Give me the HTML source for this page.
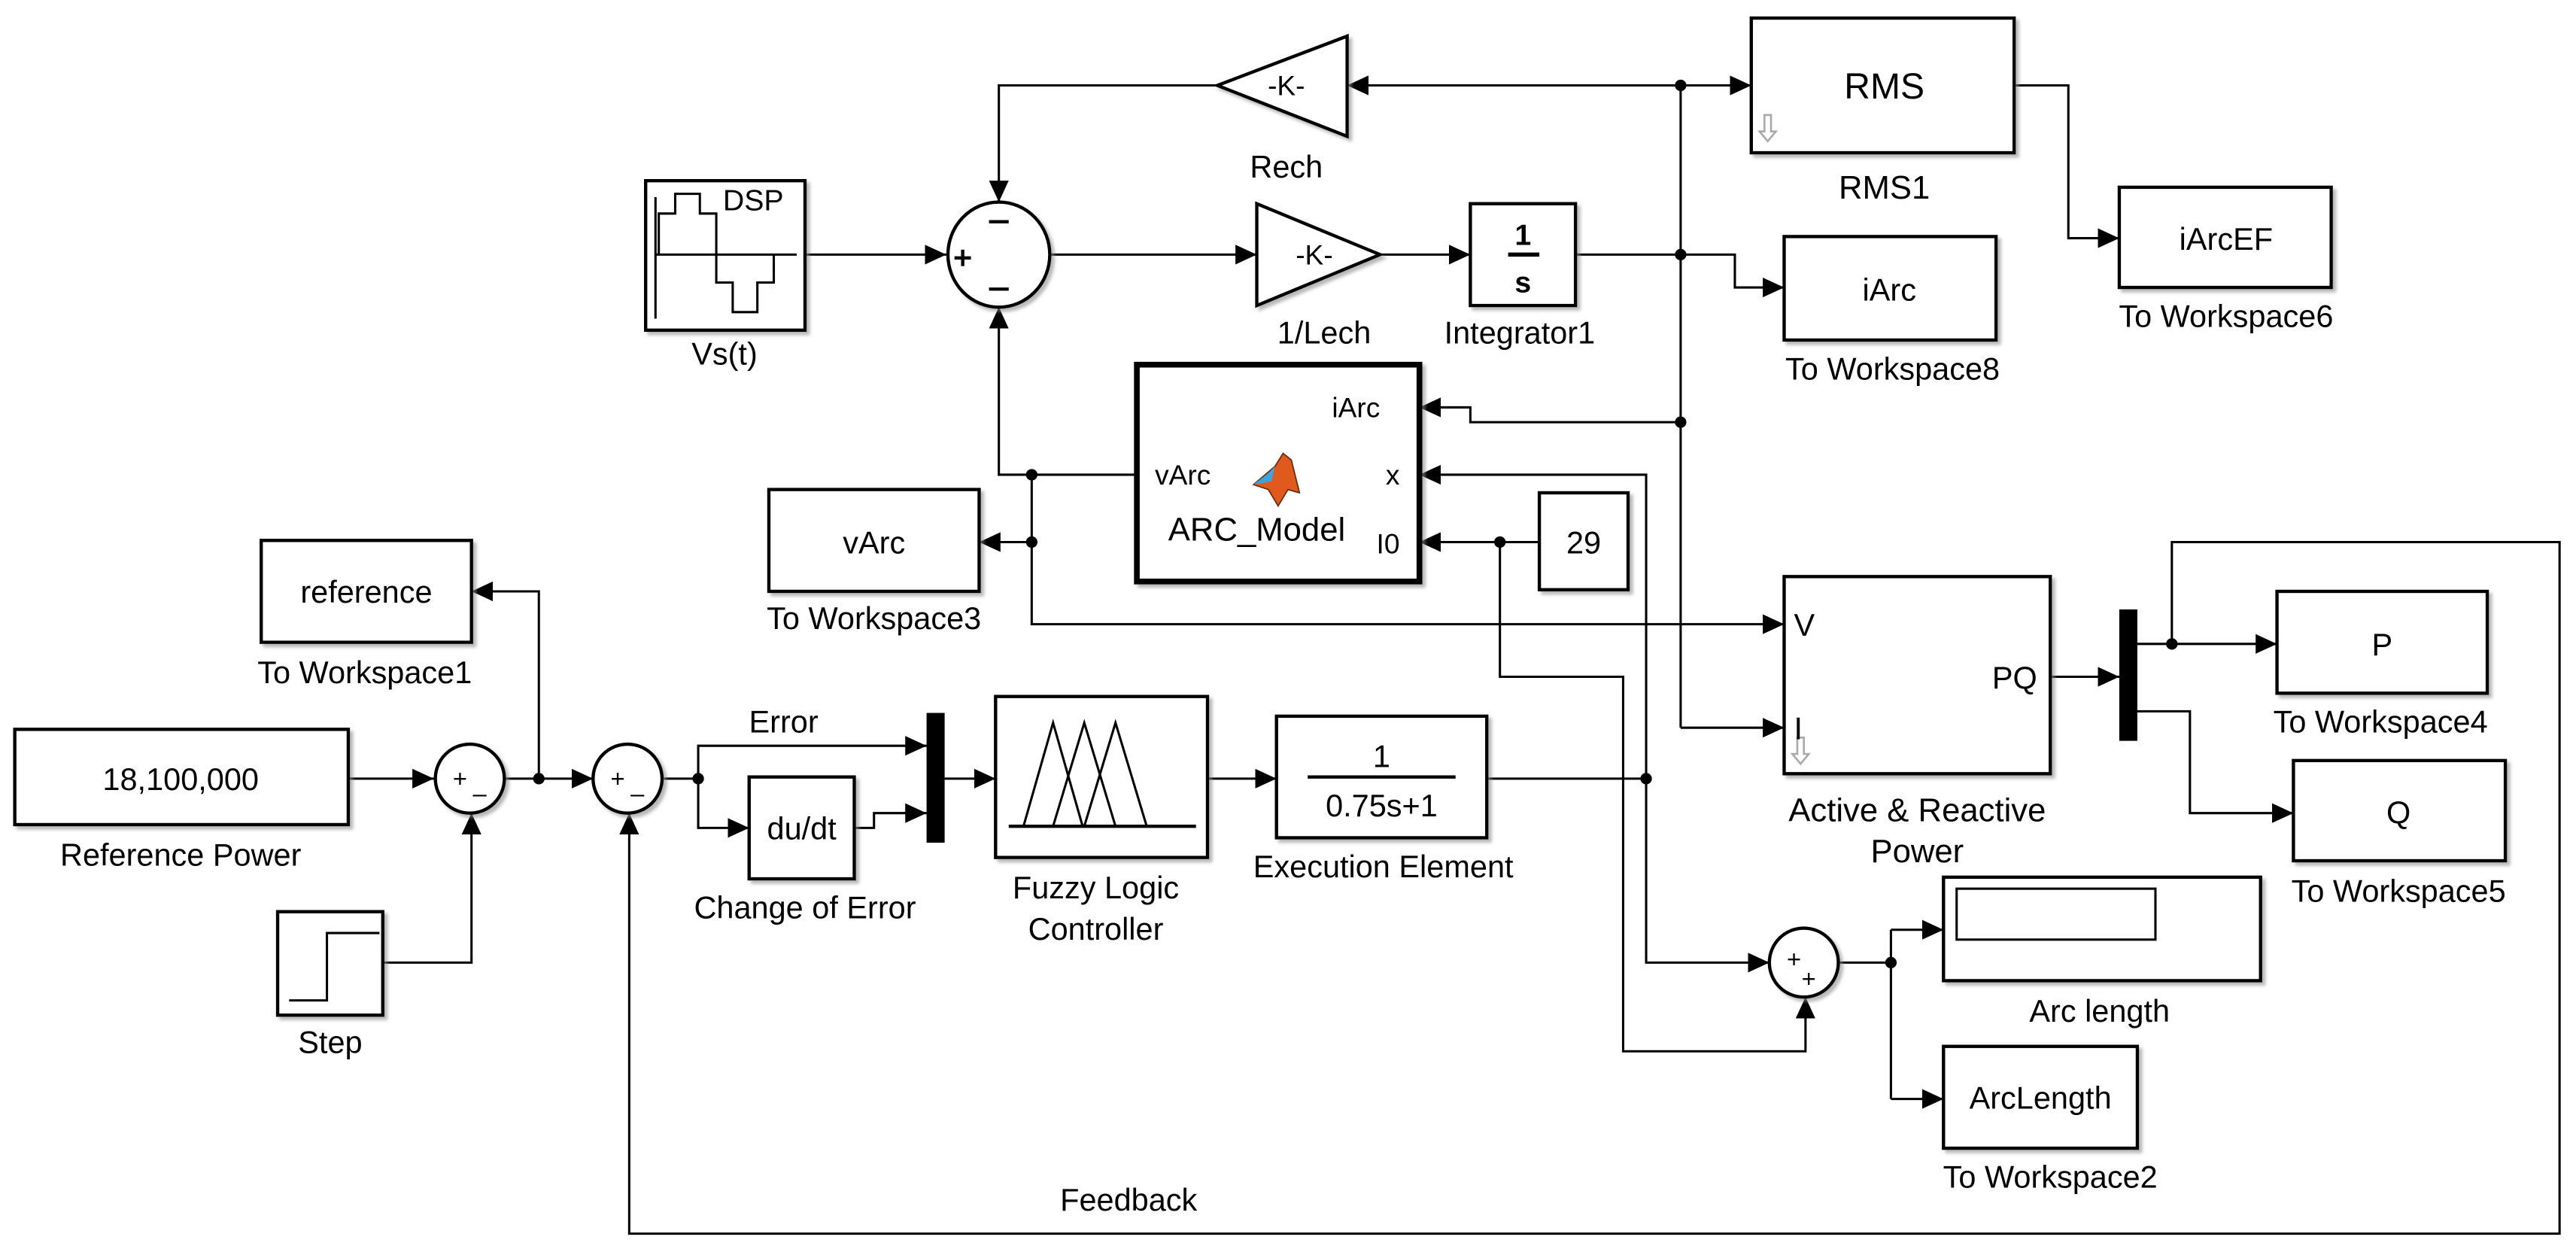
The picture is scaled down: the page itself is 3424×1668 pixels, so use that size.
<!DOCTYPE html>
<html><head><meta charset="utf-8"><style>
html,body{margin:0;padding:0;background:#fff}
svg{display:block}
text{font-family:"Liberation Sans",sans-serif;fill:#000}
</style></head><body>
<svg width="3424" height="1668" viewBox="0 0 1568 764" preserveAspectRatio="none" xmlns="http://www.w3.org/2000/svg">
<defs>
<marker id="a" markerUnits="userSpaceOnUse" markerWidth="14" markerHeight="14" refX="13" refY="6" orient="auto"><path d="M0,0 L13,6 L0,12 z" fill="#000"/></marker>
<filter id="sh" x="-5%" y="-5%" width="115%" height="115%"><feDropShadow dx="2" dy="2" stdDeviation="1" flood-color="#888" flood-opacity="0.6"/></filter>
</defs>
<g fill="none" stroke="#000" stroke-width="1.4">
<line x1="490" y1="155" x2="576" y2="155" marker-end="url(#a)"/>
<polyline points="741,52 608,52 608,123" marker-end="url(#a)"/>
<line x1="1023" y1="52" x2="820" y2="52" marker-end="url(#a)"/>
<line x1="1023" y1="52" x2="1066" y2="52" marker-end="url(#a)"/>
<line x1="640" y1="155" x2="765" y2="155" marker-end="url(#a)"/>
<line x1="840" y1="155" x2="895" y2="155" marker-end="url(#a)"/>
<polyline points="959,155 1056,155 1056,175 1086,175" marker-end="url(#a)"/>
<line x1="1023" y1="52" x2="1023" y2="443"/>
<line x1="1023" y1="443" x2="1086" y2="443" marker-end="url(#a)"/>
<polyline points="1023,257 895,257 895,248 864,248" marker-end="url(#a)"/>
<polyline points="1226,52 1259,52 1259,145 1290,145" marker-end="url(#a)"/>
<polyline points="1002,474 1002,289 864,289" marker-end="url(#a)"/>
<line x1="937" y1="330" x2="864" y2="330" marker-end="url(#a)"/>
<polyline points="913,330 913,412 988,412 988,640 1099,640 1099,607" marker-end="url(#a)"/>
<polyline points="692,289 608,289 608,187" marker-end="url(#a)"/>
<line x1="628" y1="330" x2="596" y2="330" marker-end="url(#a)"/>
<polyline points="628,289 628,380 1086,380" marker-end="url(#a)"/>
<line x1="905" y1="474" x2="1002" y2="474"/>
<polyline points="1002,474 1002,586 1077,586" marker-end="url(#a)"/>
<line x1="1119" y1="586" x2="1151" y2="586"/>
<polyline points="1151,566 1183,566" marker-end="url(#a)"/>
<line x1="1151" y1="566" x2="1151" y2="669"/>
<line x1="1151" y1="669" x2="1183" y2="669" marker-end="url(#a)"/>
<line x1="1248" y1="412" x2="1290" y2="412" marker-end="url(#a)"/>
<line x1="1301" y1="392" x2="1386" y2="392" marker-end="url(#a)"/>
<polyline points="1301,433 1333,433 1333,495 1396,495" marker-end="url(#a)"/>
<polyline points="1322,392 1322,330 1558,330 1558,751 383,751 383,495" marker-end="url(#a)"/>
<line x1="212" y1="474" x2="264" y2="474" marker-end="url(#a)"/>
<polyline points="233,586 287,586 287,495" marker-end="url(#a)"/>
<line x1="307" y1="474" x2="361" y2="474" marker-end="url(#a)"/>
<polyline points="328,474 328,360 287,360" marker-end="url(#a)"/>
<line x1="404" y1="474" x2="425" y2="474"/>
<polyline points="425,474 425,454 564,454" marker-end="url(#a)"/>
<polyline points="425,474 425,504 456,504" marker-end="url(#a)"/>
<polyline points="520,504 532,504 532,495 564,495" marker-end="url(#a)"/>
<line x1="575" y1="474" x2="606" y2="474" marker-end="url(#a)"/>
<line x1="735" y1="474" x2="777" y2="474" marker-end="url(#a)"/>
</g>
<g fill="#000">
<circle cx="1023" cy="52" r="3.5"/><circle cx="1023" cy="155" r="3.5"/><circle cx="1023" cy="257" r="3.5"/>
<circle cx="628" cy="289" r="3.5"/><circle cx="628" cy="330" r="3.5"/><circle cx="913" cy="330" r="3.5"/>
<circle cx="1002" cy="474" r="3.5"/><circle cx="1151" cy="586" r="3.5"/><circle cx="1322" cy="392" r="3.5"/>
<circle cx="328" cy="474" r="3.5"/><circle cx="425" cy="474" r="3.5"/>
<rect x="1290" y="371" width="11" height="80"/>
<rect x="564" y="434" width="11" height="79"/>
</g>
<g fill="#fff" stroke="#000" stroke-width="2" filter="url(#sh)">
<rect x="393" y="110" width="97" height="91"/>
<ellipse cx="608" cy="155" rx="31" ry="32"/>
<polygon points="820,22 820,83 741,52"/>
<polygon points="765,124 765,186 840,155"/>
<rect x="895" y="124" width="64" height="62"/>
<rect x="1066" y="11" width="160" height="82"/>
<rect x="1086" y="144" width="129" height="63"/>
<rect x="1290" y="114" width="129" height="61"/>
<rect x="692" y="222" width="172" height="132" stroke-width="3.5"/>
<rect x="937" y="300" width="54" height="59"/>
<rect x="468" y="298" width="128" height="62"/>
<rect x="1086" y="351" width="162" height="120"/>
<rect x="1386" y="360" width="128" height="62"/>
<rect x="1396" y="463" width="129" height="61"/>
<rect x="777" y="436" width="128" height="74"/>
<ellipse cx="1098" cy="586" rx="21" ry="21"/>
<rect x="1183" y="534" width="193" height="63"/>
<rect x="1183" y="637" width="118" height="62"/>
<rect x="159" y="329" width="128" height="62"/>
<rect x="9" y="444" width="203" height="58"/>
<ellipse cx="286" cy="474" rx="21" ry="21"/>
<ellipse cx="382" cy="474" rx="21" ry="21"/>
<rect x="169" y="555" width="64" height="63"/>
<rect x="456" y="473" width="64" height="62"/>
<rect x="606" y="424" width="129" height="98"/>
</g>
<g fill="none" stroke="#000" stroke-width="1.4">
<rect x="1191" y="541" width="121" height="31"/>
<line x1="399" y1="120" x2="399" y2="194"/>
<line x1="399" y1="155" x2="485" y2="155"/>
<polyline points="401,155 401,130 411,130 411,118 426,118 426,130 436,130 436,155"/>
<polyline points="436,155 436,172 446,172 446,190 461,190 461,172 471,172 471,155"/>
<polyline points="176,609 199,609 199,568 231,568"/>
<line x1="614" y1="503" x2="728" y2="503" stroke-width="2"/>
<polyline points="623,503 641,440 659,503"/>
<polyline points="641,503 660,440 679,503"/>
<polyline points="660,503 679,440 698,503"/>
<line x1="796" y1="473" x2="886" y2="473" stroke-width="2"/>
<line x1="918" y1="155" x2="937" y2="155" stroke-width="2.5"/>
</g>
<g stroke="#000" stroke-width="2">
<line x1="602" y1="135" x2="614" y2="135"/><line x1="602" y1="176" x2="614" y2="176"/>
<line x1="581" y1="157" x2="591" y2="157"/><line x1="586" y1="152" x2="586" y2="162"/>
</g>
<g fill="none" stroke="#aaa" stroke-width="1.2">
<path d="M1074,80 v-10 h4 v10 h3 l-5,6 l-5,-6 z"/>
<path d="M1094,459 v-10 h4 v10 h3 l-5,6 l-5,-6 z"/>
</g>
<path d="M763,295 L776,284 L781,276 L786,280 L791,300 L784,298 L778,308 L772,298 z" fill="#e05a1e" stroke="#6a2a10" stroke-width="0.8"/>
<path d="M763,295 L772,288 L776,284 L774,293 z" fill="#3aa3e0"/>
<g font-size="19" text-anchor="middle">
<text x="440" y="128" font-size="18" text-anchor="start">DSP</text>
<text x="441" y="222">Vs(t)</text>
<text x="783" y="58" font-size="17">-K-</text>
<text x="783" y="108">Rech</text>
<text x="800" y="161" font-size="17">-K-</text>
<text x="806" y="209">1/Lech</text>
<text x="927" y="149" font-weight="bold" font-size="18">1</text>
<text x="927" y="178" font-weight="bold" font-size="18">s</text>
<text x="925" y="209">Integrator1</text>
<text x="1147" y="60" font-size="22">RMS</text>
<text x="1147" y="121" font-size="20">RMS1</text>
<text x="1150" y="183">iArc</text>
<text x="1152" y="231">To Workspace8</text>
<text x="1355" y="152">iArcEF</text>
<text x="1355" y="199">To Workspace6</text>
<text x="720" y="295" font-size="17">vArc</text>
<text x="840" y="254" font-size="17" text-anchor="end">iArc</text>
<text x="852" y="295" font-size="17" text-anchor="end">x</text>
<text x="852" y="337" font-size="17" text-anchor="end">I0</text>
<text x="765" y="329" font-size="20">ARC_Model</text>
<text x="964" y="337">29</text>
<text x="532" y="337">vArc</text>
<text x="532" y="383">To Workspace3</text>
<text x="1092" y="387" text-anchor="start">V</text>
<text x="1240" y="419" text-anchor="end">PQ</text>
<text x="1092" y="450" text-anchor="start">I</text>
<text x="1167" y="500" font-size="20">Active &amp; Reactive</text>
<text x="1167" y="525" font-size="20">Power</text>
<text x="1450" y="399">P</text>
<text x="1449" y="446">To Workspace4</text>
<text x="1460" y="501">Q</text>
<text x="1460" y="549">To Workspace5</text>
<text x="841" y="467">1</text>
<text x="841" y="497">0.75s+1</text>
<text x="842" y="534">Execution Element</text>
<text x="1278" y="622">Arc length</text>
<text x="1242" y="675">ArcLength</text>
<text x="1248" y="723">To Workspace2</text>
<text x="223" y="367">reference</text>
<text x="222" y="416">To Workspace1</text>
<text x="110" y="481">18,100,000</text>
<text x="110" y="527">Reference Power</text>
<text x="201" y="641">Step</text>
<text x="477" y="446">Error</text>
<text x="488" y="511">du/dt</text>
<text x="490" y="559">Change of Error</text>
<text x="667" y="547">Fuzzy Logic</text>
<text x="667" y="572">Controller</text>
<text x="687" y="737">Feedback</text>
</g>
<g font-size="15" text-anchor="middle">
<text x="280" y="479">+</text><text x="292" y="488">–</text>
<text x="376" y="479">+</text><text x="388" y="488">–</text>
<text x="1092" y="589">+</text><text x="1101" y="601">+</text>
</g>
</svg>
</body></html>
